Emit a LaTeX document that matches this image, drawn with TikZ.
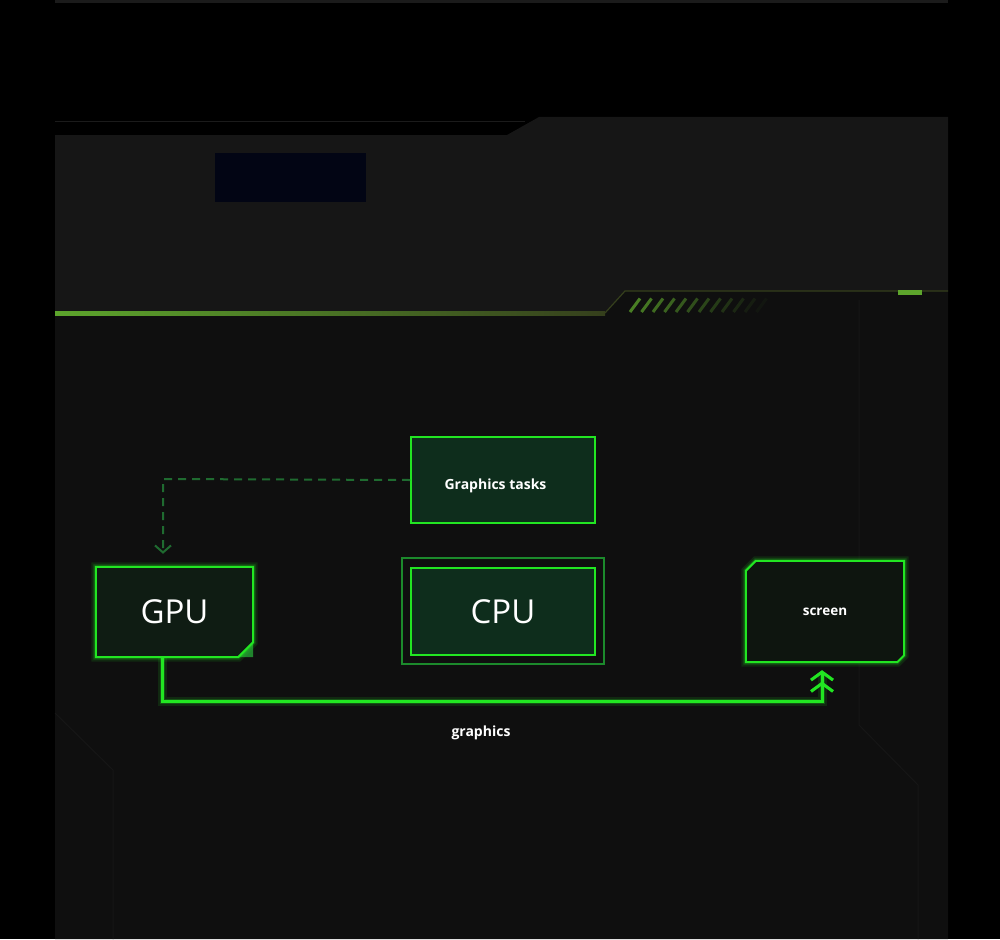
\documentclass[tikz,border=0pt]{standalone}
\usepackage{fontspec}
\setmainfont{Open Sans}
\usetikzlibrary{arrows.meta}
\definecolor{gbright}{HTML}{22E622}
\definecolor{gdash}{HTML}{1F6B30}
\definecolor{gfill}{HTML}{0E2D1C}
\definecolor{gpufill}{HTML}{0F1C13}
\definecolor{scrfill}{HTML}{0E150F}
\definecolor{gouter}{HTML}{1C8A2C}
\definecolor{panelA}{HTML}{161616}
\definecolor{panelB}{HTML}{0F0F0F}
\definecolor{strip}{HTML}{1B1B1B}
\definecolor{faint}{HTML}{161616}
\definecolor{lime}{HTML}{5DA52C}
\definecolor{olive}{HTML}{353F1C}
\definecolor{darkblue}{HTML}{020514}
\tikzset{
  glow/.style={preaction={draw=gbright,draw opacity=0.12,line width=9pt},
               preaction={draw=gbright,draw opacity=0.22,line width=5pt}},
  taskbox/.style={draw=gbright,line width=2pt,fill=gfill},
  bigtxt/.style={text=white,font=\fontsize{33}{38}\selectfont},
  smalltxt/.style={text=white,font=\bfseries\fontsize{13.5}{16}\selectfont},
  hollow/.style={inner sep=0pt,draw=none},
}
\begin{document}
\begin{tikzpicture}[x=1pt,y=-1pt]
\useasboundingbox (0,0) rectangle (1000,939);
% background
\fill[black] (0,0) rectangle (1000,939);
\fill[strip] (55,0) rectangle (948,3);
\fill[panelA] (55,135) -- (507,135) -- (539,117) -- (948,117) -- (948,291) -- (625,291) -- (605,313) -- (55,313) -- cycle;
\draw[strip,line width=1.2pt] (55,121.5) -- (525,121.5);
\fill[panelB] (55,313) -- (605,313) -- (625,291) -- (948,291) -- (948,939) -- (55,939) -- cycle;
\fill[darkblue] (215,153) rectangle (366,202);
% faint frame lines
\draw[faint,line width=1pt] (859,300) -- (859,725) -- (918,785) -- (918,939);
\draw[faint,line width=1pt] (55,713) -- (113,770) -- (113,939);
% green line with fade
\shade[left color=lime,right color=olive] (55,311.5) rectangle (605,315);
\draw[olive,line width=1.2pt] (605,313) -- (625,291) -- (948,291);
\foreach \i in {0,...,11}{
  \pgfmathsetmacro\op{max(0.05,0.75-0.065*\i)}
  \draw[lime,draw opacity=\op,line width=3pt] (630+11.5*\i,312) -- (640+11.5*\i,298.5);
}
\fill[lime] (898,289.5) rectangle (922,294.5);
% nodes
\node[taskbox,minimum width=184pt,minimum height=86pt] (tasks) at (503,480) {};
\node[smalltxt,font=\bfseries\fontsize{14}{16}\selectfont] (taskstxt) at (495.5,486) {Graphics tasks};
\node[draw=gouter,line width=1.2pt,minimum width=202pt,minimum height=106pt] (cpuo) at (503,611) {};
\node[draw=gbright,line width=2pt,fill=gfill,minimum width=184pt,minimum height=87pt,bigtxt] (cpu) at (503,611.5) {CPU};
% GPU box (chamfered bottom right)
\node[hollow,minimum width=157pt,minimum height=90pt] (gpu) at (174.5,612) {};
\fill[gdash!80!gbright] ([yshift=14pt]gpu.south east) -- (gpu.south east) -- ([xshift=-14pt]gpu.south east) -- cycle;
\draw[glow,draw=gbright,line width=2pt,fill=gpufill] (gpu.north west) -- (gpu.north east) -- ([yshift=15pt]gpu.south east) -- ([xshift=-15pt]gpu.south east) -- (gpu.south west) -- cycle;
\node[bigtxt] at (gpu.center) {GPU};
% screen box (chamfered top left & bottom right)
\node[hollow,minimum width=158pt,minimum height=101pt] (scr) at (825,611.5) {};
\draw[glow,draw=gbright,line width=2pt,fill=scrfill] ([xshift=10pt]scr.north west) -- (scr.north east) -- ([yshift=7pt]scr.south east) -- ([xshift=-7pt]scr.south east) -- (scr.south west) -- ([yshift=-10pt]scr.north west) -- cycle;
\node[smalltxt] at (scr.center) {screen};
% connectors
\coordinate (bend1) at (163,479);
\draw[gdash,line width=2pt,dash pattern=on 8pt off 6pt,-{Straight Barb[length=7pt,width=16pt,line width=2pt]}] (tasks.west) -- (bend1) -- ([xshift=-11.5pt,yshift=13pt]gpu.north);
\coordinate (b2) at (162,701);
\coordinate (b3) at (822,701);
\draw[glow,gbright,line width=3pt,-{Straight Barb[length=8pt,width=22pt,line width=3pt] Straight Barb[length=8pt,width=22pt,line width=3pt]}] ([xshift=-12.5pt]gpu.south) -- (b2) -- (b3) -- ([xshift=-3pt,yshift=-8pt]scr.south);
\node[smalltxt,font=\bfseries\fontsize{14}{16}\selectfont] (lbl) at (481,733) {graphics};
\end{tikzpicture}
\end{document}
